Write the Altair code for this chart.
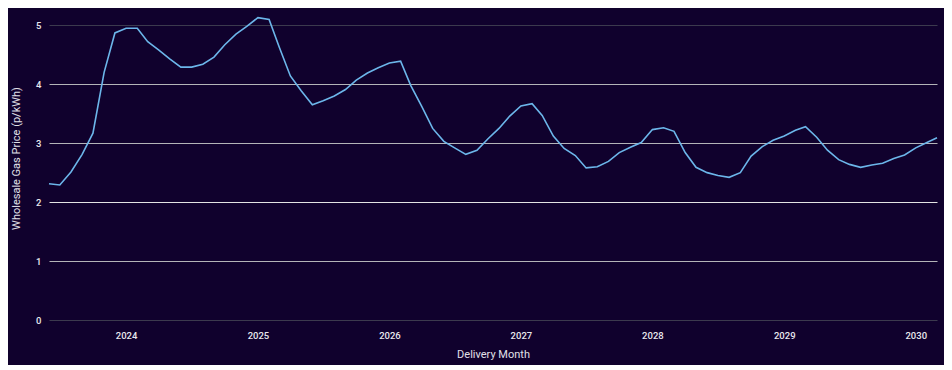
import altair as alt
import pandas as pd

start_month = "2023-06-01"
n_months = 82
prices = [
    2.31, 2.29, 2.51, 2.81, 3.17, 4.20, 4.87, 4.95, 4.95, 4.72,
    4.58, 4.43, 4.29, 4.29, 4.34, 4.46, 4.67, 4.85, 4.98, 5.13,
    5.10, 4.63, 4.14, 3.89, 3.65, 3.72, 3.80, 3.91, 4.07, 4.19,
    4.28, 4.36, 4.39, 3.98, 3.62, 3.25, 3.03, 2.92, 2.81, 2.88,
    3.07, 3.25, 3.46, 3.63, 3.67, 3.47, 3.12, 2.91, 2.79, 2.58,
    2.60, 2.69, 2.84, 2.93, 3.01, 3.23, 3.26, 3.20, 2.84, 2.59,
    2.50, 2.45, 2.42, 2.50, 2.78, 2.94, 3.05, 3.12, 3.22, 3.28,
    3.10, 2.88, 2.72, 2.64, 2.59, 2.63, 2.66, 2.74, 2.80, 2.92,
    3.01, 3.09,
]
year_ticks = [2024, 2025, 2026, 2027, 2028, 2029, 2030]
y_ticks = [0, 1, 2, 3, 4, 5]

months = pd.date_range(start_month, periods=n_months, freq="MS")
df = pd.DataFrame({"month": months.strftime("%Y-%m-%d"), "price": prices})

BG = "#10012d"
FONT = "Roboto"

grid_cond = {
    "condition": [
        {"test": "datum.value === 5", "value": "#3c3a4e"},
        {"test": "datum.value === 0", "value": "#3c3a4e"},
        {"test": "datum.value === 2", "value": "#e4e4e4"},
    ],
    "value": "#b4b4b8",
}

chart = (
    alt.Chart(df)
    .mark_line(color="#6cb6ea", strokeWidth=1.6)
    .encode(
        x=alt.X(
            "month:T",
            title="Delivery Month",
            scale=alt.Scale(type="utc", nice=False),
            axis=alt.Axis(
                values=[alt.DateTime(year=y, month=1, date=1, utc=True) for y in year_ticks],
                format="%Y",
                grid=False,
                domain=False,
                ticks=False,
                labelPadding=10,
                titlePadding=9,
            ),
        ),
        y=alt.Y(
            "price:Q",
            title="Wholesale Gas Price (p/kWh)",
            scale=alt.Scale(domain=[0, 5.14], nice=False),
            axis=alt.Axis(
                values=y_ticks,
                grid=True,
                gridColor=grid_cond,
                gridWidth=1,
                domain=False,
                ticks=False,
                labelPadding=8,
                titlePadding=14,
                titleY=141,
            ),
        ),
    )
    .properties(
        width=888,
        height=303,
        autosize=alt.AutoSizeParams(type="none"),
        padding={"left": 41, "top": 9, "right": 7, "bottom": 45},
    )
    .configure(background=BG)
    .configure_view(stroke=None)
    .configure_axis(
        labelFont=FONT,
        titleFont=FONT,
        labelColor="#e8e8ee",
        titleColor="#e0e0e8",
        labelFontSize=9.5,
        titleFontSize=11,
        titleFontWeight="normal",
        labelFontWeight=500,
    )
)

chart.save("out.html", embed_options={"renderer": "svg", "actions": False})
